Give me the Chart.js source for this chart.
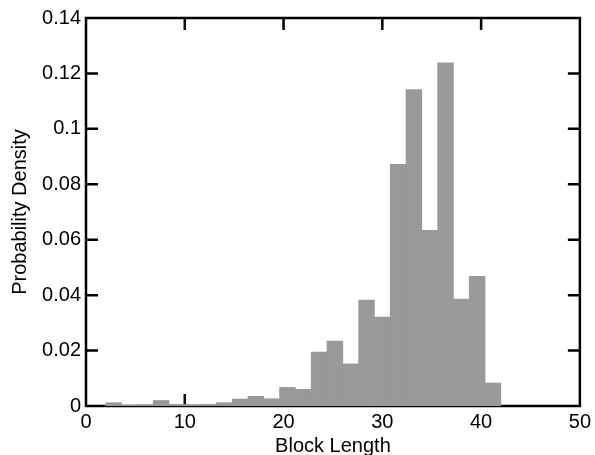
<!DOCTYPE html>
<html>
<head>
<meta charset="utf-8">
<title>Block Length Histogram</title>
<script src="https://cdn.jsdelivr.net/npm/chart.js@4.4.1/dist/chart.umd.min.js"></script>
<style>
    html, body { margin: 0; padding: 0; background: #fff; }
    #histChart { display: block; }
</style>
</head>
<body>
<canvas id="histChart" width="595" height="455"></canvas>
<script>
// Histogram data (25 bins of width 1.6 from 2 to 42)
const binCenters = [2.8, 4.4, 6.0, 7.6, 9.2, 10.8, 12.4, 14.0, 15.6, 17.2, 18.8, 20.4, 22.0,
    23.6, 25.2, 26.8, 28.4, 30.0, 31.6, 33.2, 34.8, 36.4, 38.0, 39.6, 41.2];
const density = [0.0012, 0.0003, 0.0005, 0.0020, 0.0006, 0.0005, 0.0006, 0.0012, 0.0025, 0.0035,
    0.0026, 0.0067, 0.0060, 0.0195, 0.0234, 0.0152, 0.0382, 0.0321, 0.0872, 0.1142,
    0.0634, 0.1238, 0.0386, 0.0468, 0.0083];
const xTicks = [0, 10, 20, 30, 40, 50];
const yTicks = [0, 0.02, 0.04, 0.06, 0.08, 0.1, 0.12, 0.14];

const FONT = 'Arial, "Liberation Sans", sans-serif';

// Box around the plot with inward tick marks (MATLAB style), drawn under the bars
const boxPlugin = {
    id: 'boxTicks',
    beforeDatasetsDraw(chart) {
        const { ctx, chartArea: a, scales } = chart;
        const len = 12;
        ctx.save();
        ctx.strokeStyle = '#000';
        ctx.lineWidth = 2.5;
        ctx.strokeRect(a.left, a.top, a.right - a.left, a.bottom - a.top);
        ctx.beginPath();
        xTicks.slice(1, -1).forEach(v => {
            const px = scales.x.getPixelForValue(v);
            ctx.moveTo(px, a.bottom); ctx.lineTo(px, a.bottom - len);
            ctx.moveTo(px, a.top); ctx.lineTo(px, a.top + len);
        });
        yTicks.slice(1, -1).forEach(v => {
            const py = scales.y.getPixelForValue(v);
            ctx.moveTo(a.left, py); ctx.lineTo(a.left + len, py);
            ctx.moveTo(a.right, py); ctx.lineTo(a.right - len, py);
        });
        ctx.stroke();
        ctx.restore();
    }
};

const ctx = document.getElementById('histChart').getContext('2d');
new Chart(ctx, {
    type: 'bar',
    data: {
        datasets: [{
            data: binCenters.map((x, i) => ({ x: x, y: density[i] })),
            backgroundColor: '#999999',
            borderWidth: 0,
            barPercentage: 1,
            categoryPercentage: 1
        }]
    },
    options: {
        responsive: false,
        animation: false,
        devicePixelRatio: 1,
        layout: { padding: { top: 18, right: 12, left: 0, bottom: 0 } },
        plugins: {
            legend: { display: false },
            tooltip: { enabled: false }
        },
        scales: {
            x: {
                type: 'linear',
                offset: false,
                min: 0,
                max: 50,
                afterFit: s => { s.height = 49; },
                afterBuildTicks: s => { s.ticks = xTicks.map(v => ({ value: v })); },
                grid: { display: false, drawTicks: false },
                border: { display: false },
                ticks: {
                    color: '#000',
                    font: { family: FONT, size: 20 },
                    padding: 4,
                    maxRotation: 0
                },
                title: {
                    display: true,
                    text: 'Block Length',
                    color: '#000',
                    font: { family: FONT, size: 20 },
                    padding: { top: 0, bottom: -3 }
                }
            },
            y: {
                min: 0,
                max: 0.14,
                afterFit: s => { s.width = 86; },
                afterBuildTicks: s => { s.ticks = yTicks.map(v => ({ value: v })); },
                grid: { display: false, drawTicks: false },
                border: { display: false },
                ticks: {
                    color: '#000',
                    font: { family: FONT, size: 20 },
                    padding: 5,
                    callback: v => String(v)
                },
                title: {
                    display: true,
                    text: 'Probability Density',
                    color: '#000',
                    font: { family: FONT, size: 20 },
                    padding: { top: 8, bottom: 0 }
                }
            }
        }
    },
    plugins: [boxPlugin]
});
</script>
</body>
</html>
